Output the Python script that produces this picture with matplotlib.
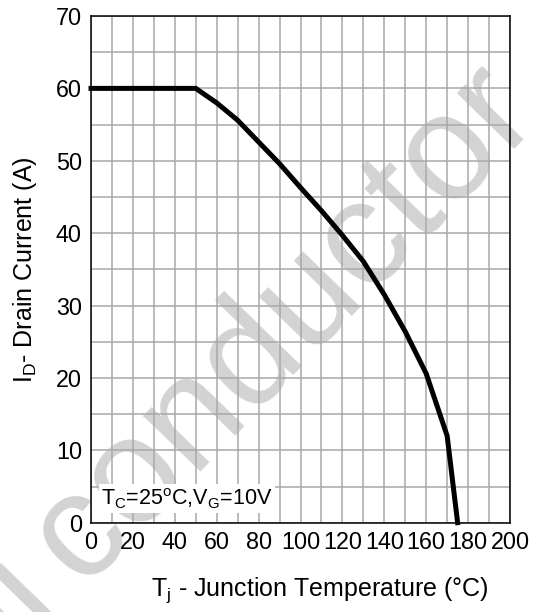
import matplotlib
matplotlib.use("Agg")
import matplotlib.pyplot as plt

# =========================
# Data
# =========================
temp_c = [0, 50, 60, 70, 80, 90, 100, 110, 120, 130, 140, 150, 160, 170, 175]
drain_a = [60, 60, 58.0, 55.6, 52.6, 49.6, 46.3, 43.1, 39.7, 36.1, 31.5, 26.4, 20.6, 12.0, 0]

x_ticks = list(range(0, 201, 20))
y_ticks = list(range(0, 71, 10))

plt.rcParams["font.family"] = ["Liberation Sans", "DejaVu Sans"]
plt.rcParams["mathtext.fontset"] = "custom"
plt.rcParams["mathtext.rm"] = "Liberation Sans"

W, H = 534, 612
fig = plt.figure(figsize=(W / 100, H / 100), dpi=100)
ax = fig.add_axes([91 / W, 1 - 522.7 / H, 419 / W, 506.7 / H])
ax.patch.set_alpha(0)  # let the watermark show underneath the grid

ax.plot(temp_c, drain_a, color="black", linewidth=3.6, solid_joinstyle="miter", zorder=5, clip_on=False)

ax.set_xlim(0, 200)
ax.set_ylim(0, 70)
ax.set_xticks(x_ticks)
ax.set_yticks(y_ticks)
ax.set_xticks(range(0, 201, 10), minor=True)
ax.set_yticks(range(0, 71, 5), minor=True)
ax.grid(True, which="both", color="#a8a8a8", linewidth=1.1)
ax.set_axisbelow(True)
ax.tick_params(which="both", length=0)
ax.tick_params(axis="x", labelsize=16.8, pad=6)
ax.tick_params(axis="y", labelsize=16.8, pad=6.5)
for s in ax.spines.values():
    s.set_linewidth(1.1)

ax.text(5.0, 2.4, r"T$_\mathregular{C}$=25$^\mathregular{o}$C,V$_\mathregular{G}$=10V",
        fontsize=15.5, ha="left", va="baseline", zorder=6,
        bbox=dict(facecolor="white", edgecolor="none", pad=1.5))

fig.text(25 / W, 1 - 270 / H, r"I$_\mathregular{D}$- Drain Current (A)",
         rotation=90, fontsize=18, ha="center", va="center")
fig.text(320 / W, 1 - 590 / H, r"T$_\mathregular{j}$ - Junction Temperature (°C)",
         fontsize=18, ha="center", va="center")

# watermark, behind the grid, rotated from bottom-left to top-right
wm = dict(fontsize=108, color="#d3d3d3", rotation=45.8, rotation_mode="anchor",
          va="baseline", zorder=-1)
fig.text(82 / W, 1 - 587 / H, "conductor", ha="left", **wm)
fig.text(64 / W, 1 - 605 / H, "Semi", ha="right", **wm)

fig.savefig("out.png", dpi=100)
